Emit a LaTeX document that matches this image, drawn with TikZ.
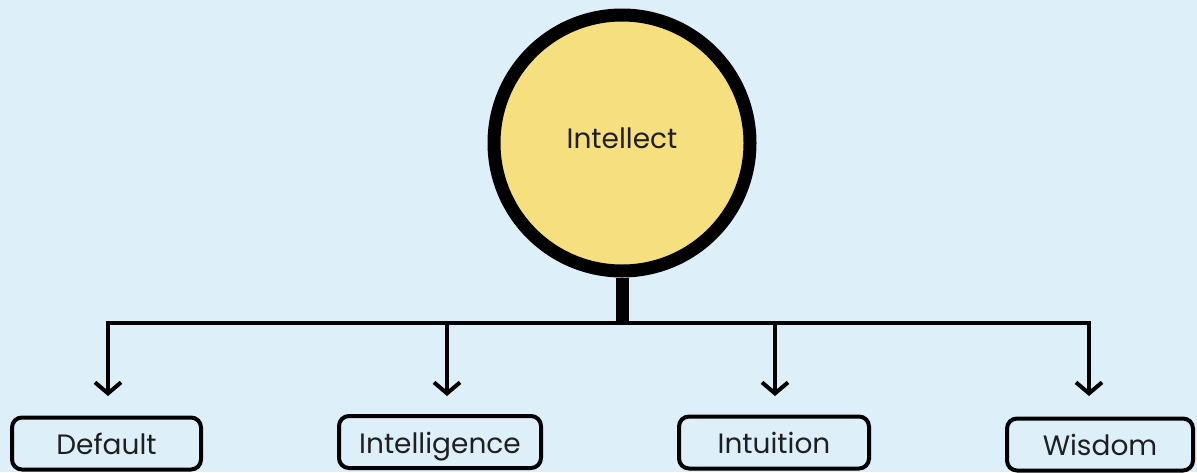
\documentclass[tikz,border=0pt]{standalone}
\usepackage{fontspec}
\setmainfont{Poppins}
\usetikzlibrary{arrows.meta}
\definecolor{bg}{HTML}{DDF0FA}
\definecolor{sun}{HTML}{F5DF7E}
\begin{document}
\begin{tikzpicture}[x=1pt,y=-1pt,
  lbl/.style={font=\fontsize{28}{32}\selectfont,text=black!88},
  leaf/.style={lbl,draw=black,line width=4pt,rounded corners=10pt,fill=bg,minimum height=52pt,text height=26pt,text depth=4pt},
  conn/.style={line width=4pt,-{Straight Barb[length=11pt,width=26pt,line width=4pt]}}]
\fill[bg] (0,0) rectangle (1197,472);
\useasboundingbox (0,0) rectangle (1197,472);
\node[circle,draw=black,line width=13pt,fill=sun,minimum size=256pt,inner sep=0pt,lbl] (intel) at (622,143) {\raisebox{9pt}{Intellect}};
\node[leaf,minimum width=189pt] (def) at (106.5,443.5) {Default};
\node[leaf,minimum width=202pt] (intg) at (440,442) {Intelligence};
\node[leaf,minimum width=190pt] (intu) at (774,442.5) {Intuition};
\node[leaf,minimum width=186pt] (wis) at (1100,444.5) {Wisdom};
\coordinate (hub) at (622,323);
\draw[line width=13pt] (intel.south) -- (hub) -- ++(0,2);
\draw[line width=4pt] (108,323) -- (1091,323);
\draw[conn] (108,321) -- (108,396);
\draw[conn] (447,323) -- (447,396);
\draw[conn] (775,323) -- (775,396);
\draw[conn] (1089,321) -- (1089,396);
\end{tikzpicture}
\end{document}
